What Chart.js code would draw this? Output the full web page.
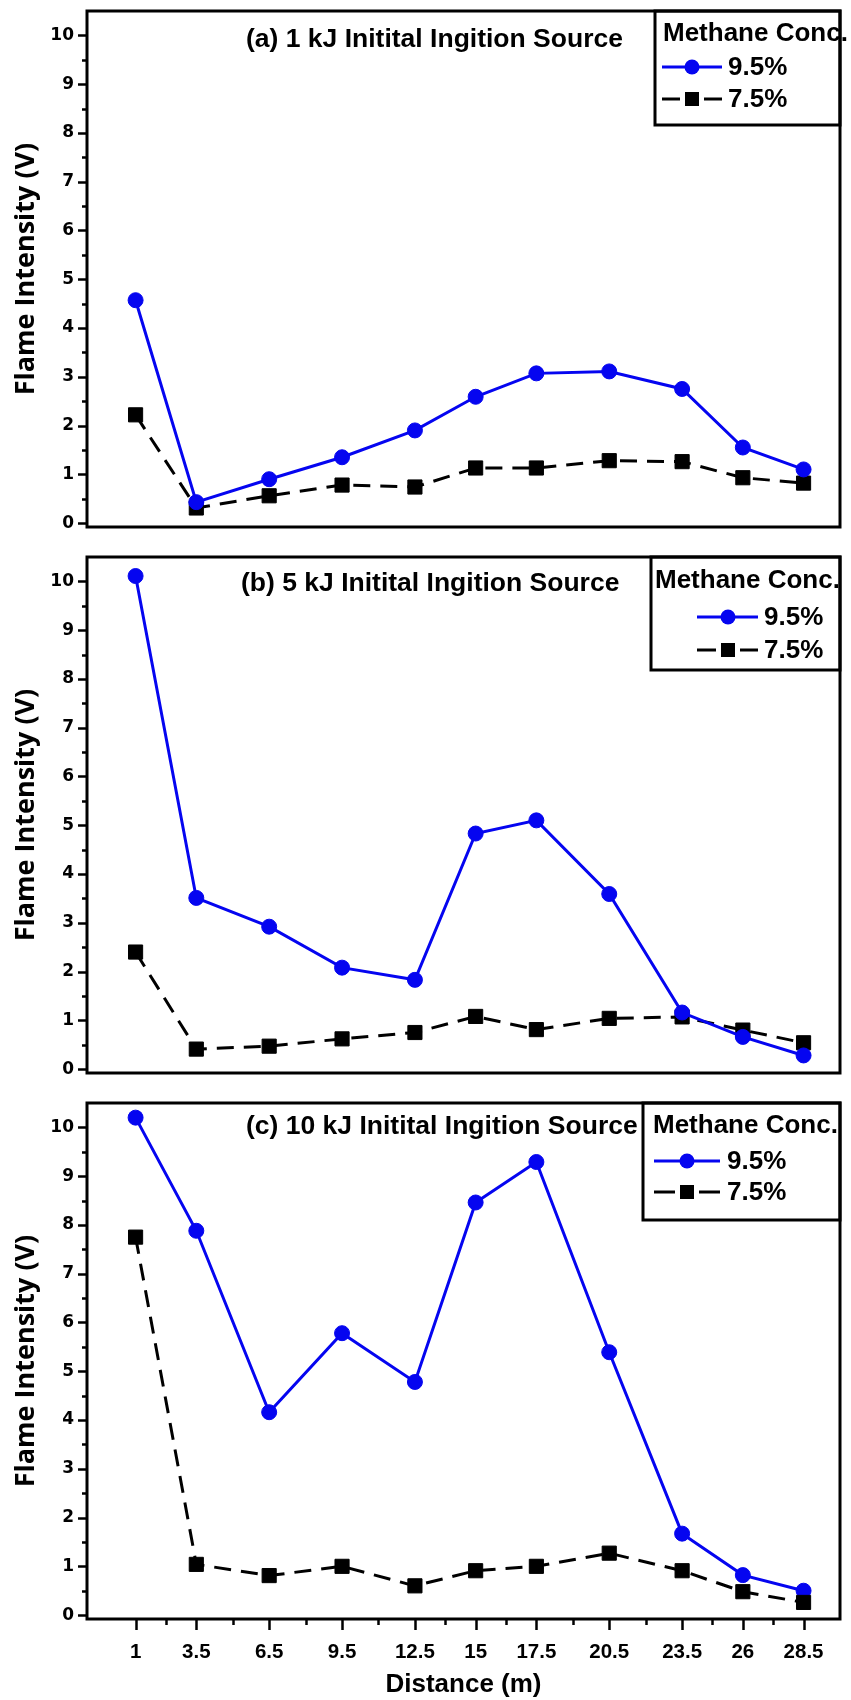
<!DOCTYPE html>
<html>
<head>
<meta charset="utf-8">
<title>Flame Intensity vs Distance</title>
<script src="https://cdn.jsdelivr.net/npm/chart.js@4.4.1/dist/chart.umd.min.js"></script>
<style>
  html, body { margin: 0; padding: 0; background: #fff; }
  #wrap { position: relative; width: 851px; height: 1700px; background: #fff; }
  .panel { position: absolute; left: 0; width: 851px; }
  canvas { display: block; }
</style>
</head>
<body>
<div id="wrap">
  <div class="panel" style="top:0px;height:546px"><canvas id="panelA" width="851" height="546" style="width:851px;height:546px"></canvas></div>
  <div class="panel" style="top:546px;height:546px"><canvas id="panelB" width="851" height="546" style="width:851px;height:546px"></canvas></div>
  <div class="panel" style="top:1092px;height:608px"><canvas id="panelC" width="851" height="608" style="width:851px;height:608px"></canvas></div>
</div>
<script>
// Measurement stations along the tube (m)
const distances = [1, 3.5, 6.5, 9.5, 12.5, 15, 17.5, 20.5, 23.5, 26, 28.5];
const distanceLabels = ['1', '3.5', '6.5', '9.5', '12.5', '15', '17.5', '20.5', '23.5', '26', '28.5'];
const yTickValues = [0, 1, 2, 3, 4, 5, 6, 7, 8, 9, 10];

const seriesNames = ['9.5%', '7.5%'];
const legendTitle = 'Methane Conc.';
const panelTitles = [
  '(a) 1 kJ Initital Ingition Source',
  '(b) 5 kJ Initital Ingition Source',
  '(c) 10 kJ Initital Ingition Source'
];
const yTitle = 'Flame Intensity (V)';
const xTitle = 'Distance (m)';

// Flame intensity (V), 1 kJ ignition
const methane95_1kJ = [4.57, 0.43, 0.90, 1.35, 1.90, 2.59, 3.07, 3.11, 2.75, 1.55, 1.10];
const methane75_1kJ = [2.22, 0.31, 0.56, 0.78, 0.74, 1.13, 1.13, 1.28, 1.26, 0.93, 0.82];
// Flame intensity (V), 5 kJ ignition
const methane95_5kJ = [10.11, 3.51, 2.92, 2.08, 1.83, 4.83, 5.10, 3.59, 1.16, 0.66, 0.28];
const methane75_5kJ = [2.40, 0.41, 0.47, 0.62, 0.75, 1.08, 0.81, 1.04, 1.07, 0.80, 0.54];
// Flame intensity (V), 10 kJ ignition
const methane95_10kJ = [10.20, 7.88, 4.16, 5.78, 4.78, 8.46, 9.29, 5.39, 1.67, 0.82, 0.50];
const methane75_10kJ = [7.75, 1.04, 0.81, 1.00, 0.60, 0.91, 1.00, 1.27, 0.91, 0.48, 0.26];

const BLUE = '#0505f0';
const TEXT_FONT = '"Liberation Sans", Arial, sans-serif';
const TICK_FONT = '"DejaVu Sans", "Liberation Sans", sans-serif';
const LABEL_FONT = '"Open Sans", "Noto Sans", sans-serif';

// Frame, tick marks, panel caption, axis caption and the boxed legend
const panelDecor = {
  id: 'panelDecor',
  afterDraw(chart, args, o) {
    const { ctx, chartArea: a, scales } = chart;
    const x = scales.x, y = scales.y;
    ctx.save();
    ctx.strokeStyle = '#000';
    ctx.fillStyle = '#000';
    ctx.lineCap = 'butt';

    // y ticks: major on integers, minor midway
    ctx.lineWidth = 2.5;
    yTickValues.forEach((v, i) => {
      const py = Math.round(y.getPixelForValue(v)) + 0.5;
      ctx.beginPath(); ctx.moveTo(a.left, py); ctx.lineTo(a.left - 9, py); ctx.stroke();
      if (i < yTickValues.length - 1) {
        const pm = Math.round(y.getPixelForValue((v + yTickValues[i + 1]) / 2)) + 0.5;
        ctx.beginPath(); ctx.moveTo(a.left, pm); ctx.lineTo(a.left - 5, pm); ctx.stroke();
      }
    });

    // x ticks on the bottom panel only
    if (o.xTicks) {
      distances.forEach((d, i) => {
        const px = Math.round(x.getPixelForValue(d)) + 0.5;
        ctx.beginPath(); ctx.moveTo(px, a.bottom); ctx.lineTo(px, a.bottom + 11); ctx.stroke();
        if (i < distances.length - 1) {
          const pm = Math.round(x.getPixelForValue((d + distances[i + 1]) / 2)) + 0.5;
          ctx.beginPath(); ctx.moveTo(pm, a.bottom); ctx.lineTo(pm, a.bottom + 6); ctx.stroke();
        }
      });
    }

    // legend box
    const L = o.legend;
    ctx.lineWidth = 3;
    ctx.strokeRect(L.left, a.top, a.right - L.left, L.height);
    ctx.font = 'bold 26px ' + TEXT_FONT;
    ctx.textBaseline = 'middle';
    ctx.textAlign = 'left';
    ctx.fillText(legendTitle, L.titleX, a.top + L.titleDy);

    // 9.5% entry
    const r1 = a.top + L.rows[0];
    ctx.strokeStyle = BLUE; ctx.fillStyle = BLUE; ctx.lineWidth = 3;
    ctx.beginPath(); ctx.moveTo(L.lineX1, r1); ctx.lineTo(L.lineX2, r1); ctx.stroke();
    ctx.beginPath(); ctx.arc(L.markX, r1, 7.5, 0, Math.PI * 2); ctx.fill();
    ctx.fillStyle = '#000';
    ctx.fillText(seriesNames[0], L.textX, r1 + 1);

    // 7.5% entry
    const r2 = a.top + L.rows[1];
    ctx.strokeStyle = '#000'; ctx.lineWidth = 3;
    ctx.beginPath(); ctx.moveTo(L.lineX1, r2); ctx.lineTo(L.markX - 12, r2); ctx.stroke();
    ctx.beginPath(); ctx.moveTo(L.markX + 12, r2); ctx.lineTo(L.lineX2, r2); ctx.stroke();
    ctx.fillRect(L.markX - 7, r2 - 7, 14, 14);
    ctx.fillText(seriesNames[1], L.textX, r2 + 1);

    // panel caption
    ctx.font = 'bold 26.5px ' + TEXT_FONT;
    ctx.fillText(o.title.text, o.title.x, a.top + o.title.dy);

    // y axis caption
    ctx.save();
    ctx.translate(26, (a.top + a.bottom) / 2);
    ctx.rotate(-Math.PI / 2);
    ctx.textAlign = 'center';
    ctx.font = 'bold 27px ' + LABEL_FONT;
    ctx.fillText(yTitle, 0, 0);
    ctx.restore();

    // plot frame
    ctx.strokeStyle = '#000';
    ctx.lineWidth = 3;
    ctx.strokeRect(a.left, a.top, a.right - a.left, a.bottom - a.top);
    ctx.restore();
  }
};

function toPoints(values) {
  return distances.map((d, i) => ({ x: d, y: values[i] }));
}

function makePanel(canvasId, s95, s75, deco, showX, blueOnTop) {
  return new Chart(document.getElementById(canvasId), {
    type: 'line',
    data: {
      datasets: [
        {
          label: seriesNames[0],
          data: toPoints(s95),
          borderColor: BLUE,
          backgroundColor: BLUE,
          borderWidth: 3,
          pointStyle: 'circle',
          pointRadius: 7.5,
          pointBorderWidth: 1,
          pointBackgroundColor: BLUE,
          pointBorderColor: BLUE,
          tension: 0,
          clip: false,
          order: blueOnTop ? 0 : 1
        },
        {
          label: seriesNames[1],
          data: toPoints(s75),
          borderColor: '#000',
          backgroundColor: '#000',
          borderWidth: 3,
          borderDash: [17, 10],
          pointStyle: 'rect',
          pointRadius: 10,
          pointBorderWidth: 1,
          pointBackgroundColor: '#000',
          pointBorderColor: '#000',
          tension: 0,
          clip: false,
          order: blueOnTop ? 1 : 0
        }
      ]
    },
    options: {
      responsive: false,
      maintainAspectRatio: false,
      animation: false,
      events: [],
      layout: { padding: { top: 7, right: 4, left: 0, bottom: showX ? 0 : 19 } },
      plugins: {
        legend: { display: false },
        tooltip: { enabled: false },
        title: { display: false },
        panelDecor: deco
      },
      scales: {
        x: {
          type: 'linear',
          min: -1,
          max: 30,
          display: showX,
          afterFit: s => {
            s.height = showX ? 81 : 0;
            s.paddingLeft = 0; s.paddingRight = 0;
          },
          afterBuildTicks: s => { s.ticks = distances.map(v => ({ value: v })); },
          grid: { display: false, drawTicks: false },
          border: { display: false },
          ticks: {
            autoSkip: false,
            maxRotation: 0,
            padding: 21,
            color: '#000',
            font: { family: TEXT_FONT, size: 20.5, weight: 'bold' },
            callback: v => distanceLabels[distances.indexOf(v)]
          },
          title: {
            display: true,
            text: xTitle,
            color: '#000',
            font: { family: TEXT_FONT, size: 26, weight: 'bold' },
            padding: { top: 0, bottom: 0 }
          }
        },
        y: {
          type: 'linear',
          min: -0.08,
          max: 10.5,
          afterFit: s => {
            s.width = 87;
            s.paddingTop = 0; s.paddingBottom = 0;
          },
          afterBuildTicks: s => { s.ticks = yTickValues.map(v => ({ value: v })); },
          grid: { display: false, drawTicks: false },
          border: { display: false },
          ticks: {
            padding: 13,
            color: '#000',
            font: { family: TICK_FONT, size: 17, weight: 'bold' },
            callback: v => String(v)
          }
        }
      }
    },
    plugins: [panelDecor]
  });
}

makePanel('panelA', methane95_1kJ, methane75_1kJ, {
  xTicks: false,
  title: { text: panelTitles[0], x: 246, dy: 29 },
  legend: { left: 655, height: 114, titleX: 663, titleDy: 23, rows: [56, 88], lineX1: 662, lineX2: 722, markX: 692, textX: 728 }
}, false, true);

makePanel('panelB', methane95_5kJ, methane75_5kJ, {
  xTicks: false,
  title: { text: panelTitles[1], x: 241, dy: 27 },
  legend: { left: 651, height: 113, titleX: 655, titleDy: 24, rows: [60, 93], lineX1: 697, lineX2: 758, markX: 728, textX: 764 }
}, false, true);

makePanel('panelC', methane95_10kJ, methane75_10kJ, {
  xTicks: true,
  title: { text: panelTitles[2], x: 246, dy: 24 },
  legend: { left: 643, height: 117, titleX: 653, titleDy: 23, rows: [58, 89], lineX1: 654, lineX2: 720, markX: 687, textX: 727 }
}, true, false);
</script>
</body>
</html>
